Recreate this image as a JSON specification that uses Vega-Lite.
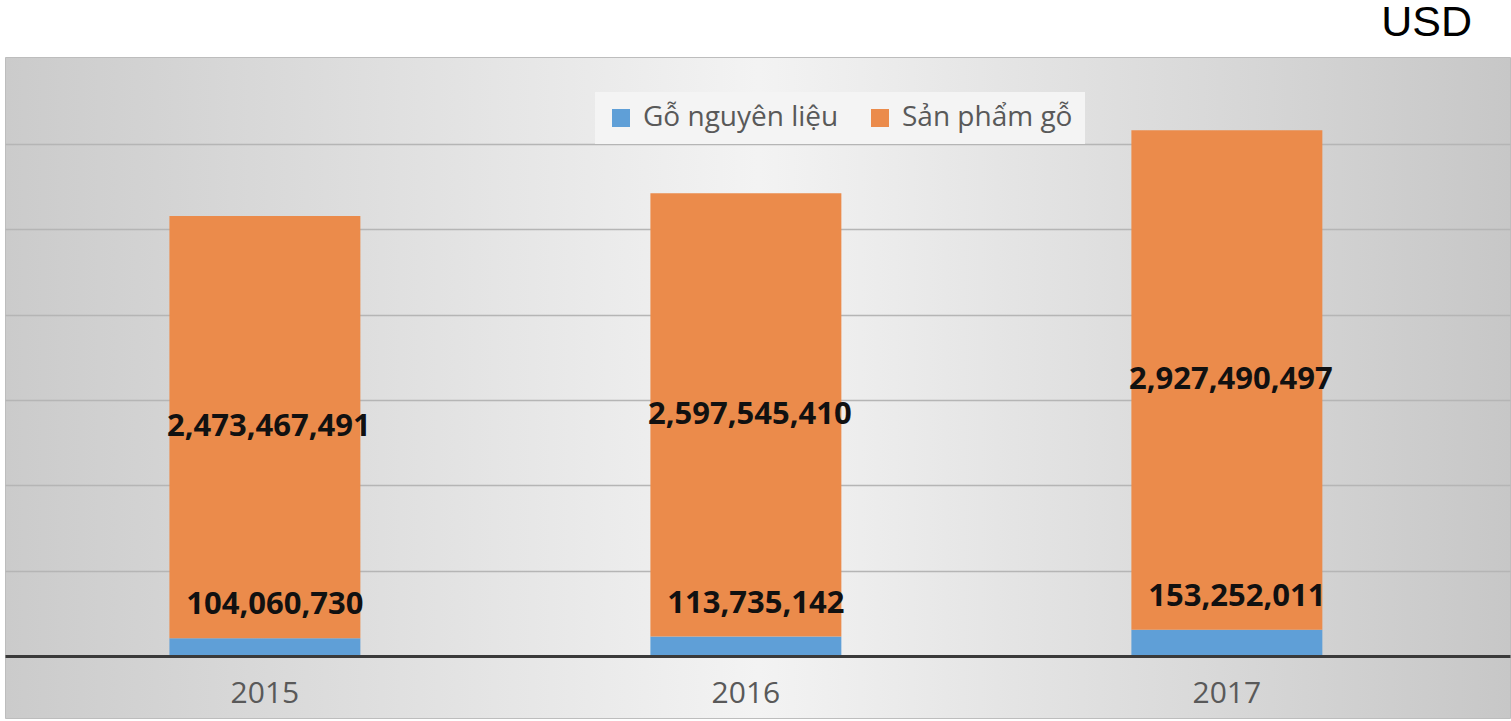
{
  "$schema": "https://vega.github.io/schema/vega-lite/v6.json",
  "width": 1505,
  "height": 661,
  "autosize": {"type": "none"},
  "padding": {"left": 5, "top": 57, "right": 1, "bottom": 3},
  "background": "#ffffff",
  "title": {
    "text": "USD",
    "anchor": "end",
    "orient": "top",
    "fontSize": 43,
    "font": "Liberation Sans",
    "fontWeight": "normal",
    "color": "#000000",
    "dx": -38,
    "offset": -22,
    "baseline": "alphabetic"
  },
  "config": {
    "view": {
      "fill": {
        "gradient": "linear",
        "x1": 0, "y1": 0, "x2": 1, "y2": 0,
        "stops": [
          {"offset": 0, "color": "#cbcbcb"},
          {"offset": 0.5, "color": "#f3f3f3"},
          {"offset": 1, "color": "#c7c7c7"}
        ]
      },
      "stroke": "#bdbdbd",
      "strokeWidth": 1
    }
  },
  "data": {
    "values": [
      {"year": "2015", "type": "Gỗ nguyên liệu", "value": 104060730},
      {"year": "2015", "type": "Sản phẩm gỗ", "value": 2473467491},
      {"year": "2016", "type": "Gỗ nguyên liệu", "value": 113735142},
      {"year": "2016", "type": "Sản phẩm gỗ", "value": 2597545410},
      {"year": "2017", "type": "Gỗ nguyên liệu", "value": 153252011},
      {"year": "2017", "type": "Sản phẩm gỗ", "value": 2927490497}
    ]
  },
  "encoding": {
    "x": {
      "field": "year",
      "type": "nominal",
      "scale": {"paddingInner": 0.603, "paddingOuter": 0.366, "align": 0.467},
      "axis": {
        "title": null,
        "orient": "bottom",
        "offset": -62,
        "labelAngle": 0,
        "labelFont": "Open Sans",
        "labelFontSize": 30,
        "labelColor": "#595959",
        "labelPadding": 22,
        "ticks": false,
        "grid": false,
        "domainColor": "#3a3a3a",
        "domainWidth": 3,
        "zindex": 1
      }
    }
  },
  "layer": [
    {
      "mark": {"type": "bar"},
      "encoding": {
        "y": {
          "field": "value",
          "type": "quantitative",
          "stack": "zero",
          "scale": {"domain": [-363300000, 3509800000], "nice": false, "zero": false},
          "axis": {
            "title": null,
            "grid": true,
            "values": [500000000, 1000000000, 1500000000, 2000000000, 2500000000, 3000000000],
            "labels": false,
            "ticks": false,
            "domain": false,
            "gridColor": "#b5b5b5",
            "gridWidth": 1.5
          }
        },
        "order": {"field": "type", "sort": "ascending"},
        "color": {
          "field": "type",
          "type": "nominal",
          "scale": {"domain": ["Gỗ nguyên liệu", "Sản phẩm gỗ"], "range": ["#5f9fd7", "#eb8b4b"]},
          "legend": {
            "orient": "none",
            "legendX": 590,
            "legendY": 35,
            "direction": "horizontal",
            "title": null,
            "symbolType": "square",
            "symbolSize": 324,
            "symbolStrokeWidth": 0,
            "labelFontSize": 28,
            "labelFont": "Open Sans",
            "labelColor": "#595959",
            "labelLimit": 400,
            "labelOffset": 8,
            "columnPadding": 27,
            "fillColor": "#f4f4f4",
            "padding": 12
          }
        }
      }
    },
    {
      "transform": [{"filter": "datum.type === 'Gỗ nguyên liệu'"}],
      "mark": {"type": "text", "font": "Open Sans", "fontWeight": "bold", "fontSize": 31, "color": "#111111", "baseline": "middle", "dy": -33, "dx": 10},
      "encoding": {
        "y": {"field": "value", "type": "quantitative"},
        "text": {"field": "value", "type": "quantitative", "format": ",d"}
      }
    },
    {
      "transform": [
        {"stack": "value", "groupby": ["year"], "sort": [{"field": "type", "order": "ascending"}], "as": ["v0", "v1"]},
        {"filter": "datum.type === 'Sản phẩm gỗ'"},
        {"fold": ["v0", "v1"], "as": ["edge", "pos"]}
      ],
      "mark": {"type": "text", "font": "Open Sans", "fontWeight": "bold", "fontSize": 31, "color": "#111111", "baseline": "middle", "dx": 4},
      "encoding": {
        "y": {"field": "pos", "type": "quantitative", "aggregate": "mean"},
        "text": {"field": "value", "type": "quantitative", "aggregate": "max", "format": ",d"}
      }
    }
  ]
}
